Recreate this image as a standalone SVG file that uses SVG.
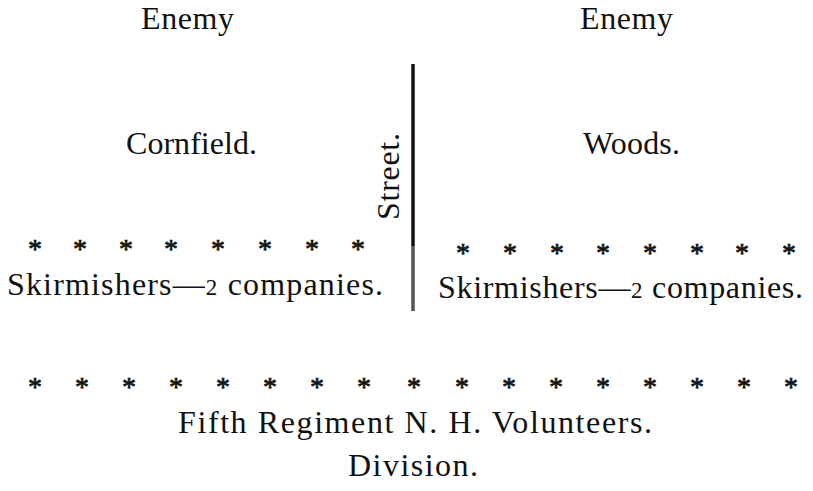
<svg xmlns="http://www.w3.org/2000/svg" width="813" height="491" viewBox="0 0 813 491">
<style>
text{font-family:"Liberation Serif","Times New Roman",serif;fill:#111;}
.lbl{font-size:32px;}
.st{font-size:28px;text-anchor:middle;stroke:#111;stroke-width:0.7;}
.os{font-size:23px;}
</style>
<rect width="813" height="491" fill="#fff"/>
<g id="enemy-left"><text class="lbl" x="141" y="29" textLength="93" lengthAdjust="spacing">Enemy</text></g>
<g id="enemy-right"><text class="lbl" x="580" y="29" textLength="93" lengthAdjust="spacing">Enemy</text></g>
<g id="cornfield"><text class="lbl" x="126" y="154" textLength="131" lengthAdjust="spacing">Cornfield.</text></g>
<g id="woods"><text class="lbl" x="583" y="154" textLength="97" lengthAdjust="spacing">Woods.</text></g>
<g id="street"><text class="lbl" transform="translate(399,220) rotate(-90)" x="0" y="0" textLength="87" lengthAdjust="spacing">Street.</text></g>
<g id="connectors"><line x1="413" y1="64" x2="413" y2="246" stroke="#111" stroke-width="3.5"/><line x1="413" y1="246" x2="413" y2="311" stroke="#555" stroke-width="3.5"/></g>
<g id="stars-left">
<text class="st" x="35" y="258">*</text><text class="st" x="80" y="258">*</text><text class="st" x="126" y="258">*</text><text class="st" x="171" y="258">*</text><text class="st" x="218" y="258">*</text><text class="st" x="265" y="258">*</text><text class="st" x="312" y="258">*</text><text class="st" x="358" y="258">*</text>
</g>
<g id="skirm-left"><text class="lbl" x="7" y="295" textLength="376" lengthAdjust="spacing">Skirmishers—<tspan class="os">2</tspan> companies.</text></g>
<g id="stars-right">
<text class="st" x="463" y="262">*</text><text class="st" x="510" y="262">*</text><text class="st" x="557" y="262">*</text><text class="st" x="603" y="262">*</text><text class="st" x="650" y="262">*</text><text class="st" x="697" y="262">*</text><text class="st" x="742" y="262">*</text><text class="st" x="789" y="262">*</text>
</g>
<g id="skirm-right"><text class="lbl" x="438" y="298" textLength="365" lengthAdjust="spacing">Skirmishers—<tspan class="os">2</tspan> companies.</text></g>
<g id="stars-bottom">
<text class="st" x="35" y="396">*</text><text class="st" x="82" y="396">*</text><text class="st" x="129" y="396">*</text><text class="st" x="176" y="396">*</text><text class="st" x="223" y="396">*</text><text class="st" x="270" y="396">*</text><text class="st" x="317" y="396">*</text><text class="st" x="364" y="396">*</text><text class="st" x="414" y="396">*</text><text class="st" x="462" y="396">*</text><text class="st" x="509" y="396">*</text><text class="st" x="556" y="396">*</text><text class="st" x="603" y="396">*</text><text class="st" x="650" y="396">*</text><text class="st" x="697" y="396">*</text><text class="st" x="744" y="396">*</text><text class="st" x="791" y="396">*</text>
</g>
<g id="regiment"><text class="lbl" x="178" y="433" textLength="474" lengthAdjust="spacing">Fifth Regiment N. H. Volunteers.</text></g>
<g id="division"><text class="lbl" x="348" y="476" textLength="130" lengthAdjust="spacing">Division.</text></g>
</svg>
